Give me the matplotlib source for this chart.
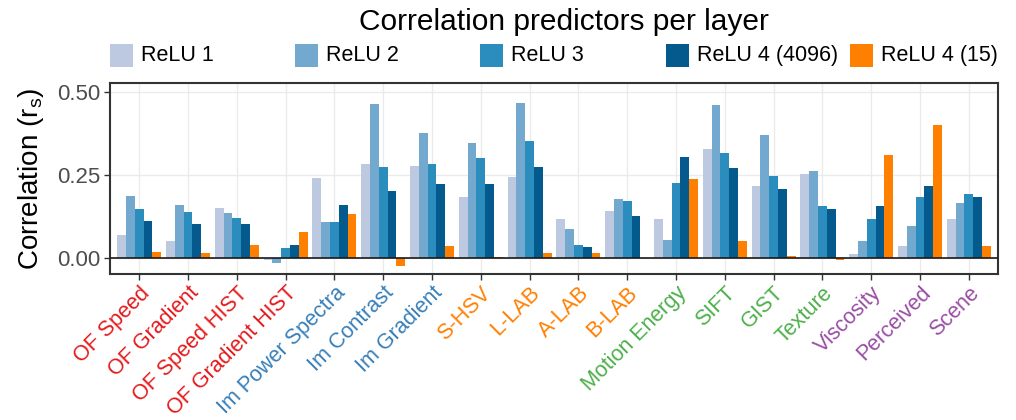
import matplotlib
matplotlib.use("Agg")
import matplotlib.pyplot as plt
import numpy as np
from matplotlib.patches import Rectangle
import matplotlib.transforms as mtransforms

plt.rcParams['font.family'] = ['Liberation Sans', 'DejaVu Sans']
plt.rcParams['mathtext.fontset'] = 'custom'
plt.rcParams['mathtext.rm'] = 'Liberation Sans'
plt.rcParams['mathtext.it'] = 'Liberation Sans'

categories = ["OF Speed", "OF Gradient", "OF Speed HIST", "OF Gradient HIST",
              "Im Power Spectra", "Im Contrast", "Im Gradient", "S-HSV", "L-LAB",
              "A-LAB", "B-LAB", "Motion Energy", "SIFT", "GIST", "Texture",
              "Viscosity", "Perceived", "Scene"]
category_groups = ["OF", "OF", "OF", "OF", "Im", "Im", "Im", "Color", "Color",
                   "Color", "Color", "Mid", "Mid", "Mid", "Mid", "High", "High", "High"]
group_colors = {"OF": "#E41A1C", "Im": "#377EB8", "Color": "#FF7F00",
                "Mid": "#4DAF4A", "High": "#984EA3"}

series_names = ["ReLU 1", "ReLU 2", "ReLU 3", "ReLU 4 (4096)", "ReLU 4 (15)"]
series_colors = ["#BDC9E1", "#74A9CF", "#2B8CBE", "#045A8D", "#FF7F00"]

relu1 = [0.070, 0.052, 0.152, -0.006, 0.242, 0.284, 0.278, 0.185, 0.245,
         0.118, 0.143, 0.118, 0.329, 0.218, 0.254, 0.013, 0.037, 0.118]
relu2 = [0.188, 0.161, 0.137, -0.013, 0.109, 0.465, 0.378, 0.347, 0.468,
         0.088, 0.179, 0.055, 0.462, 0.371, 0.263, 0.052, 0.097, 0.167]
relu3 = [0.149, 0.140, 0.121, 0.031, 0.109, 0.275, 0.284, 0.302, 0.353,
         0.040, 0.173, 0.227, 0.317, 0.248, 0.158, 0.118, 0.185, 0.194]
relu4_4096 = [0.112, 0.103, 0.103, 0.040, 0.161, 0.203, 0.224, 0.224, 0.275,
              0.034, 0.128, 0.305, 0.272, 0.209, 0.149, 0.158, 0.218, 0.185]
relu4_15 = [0.019, 0.016, 0.040, 0.079, 0.134, -0.022, 0.037, 0.004, 0.016,
            0.016, 0.001, 0.239, 0.052, 0.007, -0.004, 0.311, 0.402, 0.037]
series_values = [relu1, relu2, relu3, relu4_4096, relu4_15]

y_ticks = [0.00, 0.25, 0.50]
y_tick_labels = ["0.00", "0.25", "0.50"]

W, H = 1016, 420
fig = plt.figure(figsize=(W / 100, H / 100), dpi=100)
ax = fig.add_axes([110 / W, 1 - 274.3 / H, (998 - 110) / W, (274.3 - 83.3) / H])

x = np.arange(len(categories))
n = len(series_values)
bw = 0.9 / n
for i, (vals, col) in enumerate(zip(series_values, series_colors)):
    ax.bar(x + (i - (n - 1) / 2) * bw, vals, width=bw, color=col, linewidth=0, zorder=2)

ax.axhline(0, color="#1a1a1a", linewidth=1.2, zorder=3)
ax.set_xlim(-0.6, len(categories) - 0.4)
ax.set_ylim(-0.048, 0.527)
ax.set_yticks(y_ticks)
ax.set_yticklabels(y_tick_labels)
ax.set_xticks(x)
ax.set_xticklabels(categories, rotation=45, ha='right', va='top', rotation_mode='anchor')
for lab, g in zip(ax.get_xticklabels(), category_groups):
    lab.set_color(group_colors[g])
offset = mtransforms.ScaledTranslation(10 / 100, -7 / 100, fig.dpi_scale_trans)
for lab in ax.get_xticklabels():
    lab.set_transform(lab.get_transform() + offset)

ax.grid(True, color="#EBEBEB", linewidth=1.0, zorder=0)
ax.set_axisbelow(True)
for s in ax.spines.values():
    s.set_color("#333333")
    s.set_linewidth(1.5)
ax.tick_params(axis='both', length=4, width=1.0, color="#333333", labelsize=15.5)
ax.tick_params(axis='y', labelcolor="#4D4D4D", labelsize=16, pad=3)
ax.tick_params(axis='x', pad=2)

ax.set_ylabel("Correlation (r$_{\\rm s}$)", fontsize=20, labelpad=8)

fig.text(564 / W, 1 - 22 / H, "Correlation predictors per layer", fontsize=21.5,
         ha='center', va='center')

key_x = [110, 295, 480, 665.7, 850]
for kx, name, col in zip(key_x, series_names, series_colors):
    fig.patches.append(Rectangle((kx / W, 1 - 66.7 / H), 23 / W, 22.4 / H,
                                 transform=fig.transFigure, facecolor=col,
                                 edgecolor='none'))
    fig.text((kx + 31) / W, 1 - 55.5 / H, name, fontsize=15.5, ha='left', va='center')

fig.savefig("out.png", dpi=100)
